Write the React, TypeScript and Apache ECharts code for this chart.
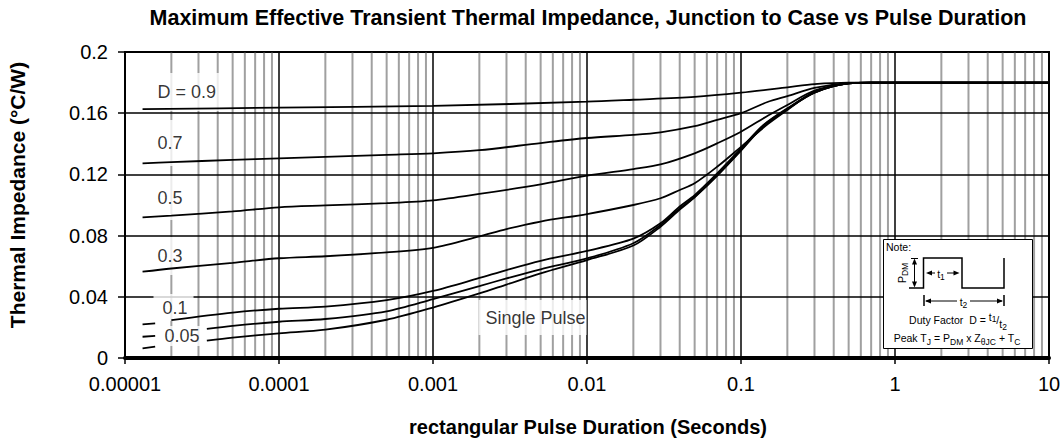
import React, { useEffect, useRef } from 'react';
import * as echarts from 'echarts';

const FONT = 'Liberation Sans, Arial, sans-serif';

const titleText = 'Maximum Effective Transient Thermal Impedance, Junction to Case vs Pulse Duration';
const xAxisTitle = 'rectangular Pulse Duration (Seconds)';
const yAxisTitle = 'Thermal Impedance (°C/W)';

const xTickLabels = ['0.00001', '0.0001', '0.001', '0.01', '0.1', '1', '10'];

const GAP = '-';

const d09 = [
  [1.3e-5, 0.1627], [1e-4, 0.1636], [1e-3, 0.1648], [1e-2, 0.1675], [2e-2, 0.1688],
  [5e-2, 0.1707], [0.1, 0.1734], [0.2, 0.1769], [0.3, 0.179], [0.5, 0.18], [0.7, 0.18], [1, 0.18], [10, 0.18],
];
const d07 = [
  [1.3e-5, 0.1272], [2e-5, 0.128], [5e-5, 0.1295], [1e-4, 0.1305], [2e-4, 0.1315], [5e-4, 0.1328],
  [1e-3, 0.1338], [2e-3, 0.1358], [5e-3, 0.1405], [1e-2, 0.1438], [2e-2, 0.1458], [3e-2, 0.1475],
  [5e-2, 0.1515], [7e-2, 0.1556], [0.1, 0.16], [0.15, 0.1675], [0.2, 0.1712], [0.3, 0.1765],
  [0.5, 0.1797], [0.7, 0.18], [1, 0.18], [10, 0.18],
];
const d05 = [
  [1.3e-5, 0.0919], [2e-5, 0.093], [5e-5, 0.0958], [1e-4, 0.0985], [2e-4, 0.0997], [5e-4, 0.1012],
  [1e-3, 0.103], [2e-3, 0.1072], [5e-3, 0.1135], [1e-2, 0.1192], [2e-2, 0.1235], [3e-2, 0.1265],
  [5e-2, 0.1338], [7e-2, 0.1403], [0.1, 0.1479], [0.15, 0.1585], [0.2, 0.1654], [0.3, 0.1747],
  [0.5, 0.1795], [0.7, 0.18], [1, 0.18], [10, 0.18],
];
const d03 = [
  [1.3e-5, 0.0564], [2e-5, 0.0585], [5e-5, 0.0622], [1e-4, 0.0652], [2e-4, 0.0665], [5e-4, 0.069],
  [1e-3, 0.072], [2e-3, 0.0795], [3e-3, 0.0843], [5e-3, 0.0892], [1e-2, 0.0941], [2e-2, 0.1],
  [3e-2, 0.1044], [4e-2, 0.1098], [5e-2, 0.1142], [7e-2, 0.125], [0.1, 0.138], [0.15, 0.153],
  [0.2, 0.1621], [0.3, 0.174], [0.5, 0.1795], [0.7, 0.18], [1, 0.18], [10, 0.18],
];
const d01 = [
  [1.3e-5, 0.022], [1.57e-5, 0.0226], [1.8e-5, GAP], [2e-5, 0.0248], [5e-5, 0.0297], [1e-4, 0.0322],
  [2e-4, 0.0336], [5e-4, 0.0378], [1e-3, 0.0438], [2e-3, 0.0523], [3e-3, 0.0575], [5e-3, 0.0635],
  [1e-2, 0.07], [2e-2, 0.078], [3e-2, 0.088], [4e-2, 0.099], [5e-2, 0.1065], [7e-2, 0.1207],
  [0.1, 0.137], [0.14, 0.1523], [0.2, 0.1632], [0.3, 0.1736], [0.5, 0.1795], [0.7, 0.18], [1, 0.18], [10, 0.18],
];
const d005 = [
  [1.3e-5, 0.0139], [1.57e-5, 0.0144], [2.5e-5, GAP], [3.4e-5, 0.019], [5e-5, 0.021], [1e-4, 0.0237],
  [2e-4, 0.0255], [5e-4, 0.0305], [1e-3, 0.0385], [2e-3, 0.047], [3e-3, 0.052], [5e-3, 0.058],
  [1e-2, 0.0651], [2e-2, 0.075], [3e-2, 0.0869], [4e-2, 0.0978], [5e-2, 0.1054], [7e-2, 0.1196],
  [0.1, 0.136], [0.14, 0.152], [0.2, 0.1628], [0.3, 0.1735], [0.5, 0.1795], [0.7, 0.18], [1, 0.18], [10, 0.18],
];
const dSingle = [
  [1.3e-5, 0.0063], [1.57e-5, 0.0074], [2.5e-5, GAP], [3.4e-5, 0.0113], [5e-5, 0.0133], [1e-4, 0.0161],
  [2e-4, 0.0185], [5e-4, 0.025], [1e-3, 0.033], [2e-3, 0.0422], [3e-3, 0.048], [5e-3, 0.0553],
  [1e-2, 0.064], [2e-2, 0.0735], [3e-2, 0.0858], [4e-2, 0.097], [5e-2, 0.105], [7e-2, 0.119],
  [0.1, 0.1355], [0.14, 0.1515], [0.2, 0.1626], [0.3, 0.1734], [0.5, 0.1795], [0.7, 0.18], [1, 0.18], [10, 0.18],
];

const seriesNames = ['D = 0.9', '0.7', '0.5', '0.3', '0.1', '0.05', 'Single Pulse'];
const seriesData = [d09, d07, d05, d03, d01, d005, dSingle];

// curve labels: text, anchor (data coords), box padding
const curveLabels = [
  { text: 'D = 0.9', at: [1.453e-5, 0.1739], pad: [9, 7, 9, 7] },
  { text: '0.7', at: [1.453e-5, 0.1405], pad: [16, 8, 10, 7] },
  { text: '0.5', at: [1.453e-5, 0.1046], pad: [14, 8, 10, 7] },
  { text: '0.3', at: [1.453e-5, 0.0667], pad: [7, 8, 11, 7] },
  { text: '0.1', at: [1.52e-5, 0.033], pad: [1, 6, 6, 9] },
  { text: '0.05', at: [1.566e-5, 0.01438], pad: [0, 8, 0, 9] },
  { text: 'Single Pulse', at: [1.96e-3, 0.02647], pad: [11, 1, 4, 7] },
];

// minor (2..9 per decade) vertical grid lines
const minorGridData: any[] = [];
for (let e = -5; e < 1; e++) {
  for (let k = 2; k <= 9; k++) {
    const v = k * Math.pow(10, e);
    minorGridData.push([v, 0], [v, 0.2], [v, GAP]);
  }
}

function arrowHead(x: number, y: number, dir: 'l' | 'r' | 'u' | 'd') {
  const L = 6, W = 2.5;
  let pts: number[][];
  if (dir === 'l') pts = [[x, y], [x + L, y - W], [x + L, y + W]];
  else if (dir === 'r') pts = [[x, y], [x - L, y - W], [x - L, y + W]];
  else if (dir === 'u') pts = [[x, y], [x - W, y + L], [x + W, y + L]];
  else pts = [[x, y], [x - W, y - L], [x + W, y - L]];
  return { type: 'polygon', z: 101, shape: { points: pts }, style: { fill: '#000' } };
}

function seg(x1: number, y1: number, x2: number, y2: number, w = 1) {
  return { type: 'line', z: 101, shape: { x1, y1, x2, y2 }, style: { stroke: '#000', lineWidth: w } };
}

export default function App() {
  const ref = useRef<HTMLDivElement>(null);
  useEffect(() => {
    document.body.style.margin = '0';
    if (!ref.current) return;
    const chart = echarts.init(ref.current, undefined, { renderer: 'svg' });

    const lineSeries: any[] = seriesData.map((d, i) => ({
      type: 'line',
      name: seriesNames[i],
      data: d,
      smooth: 0.3,
      showSymbol: false,
      connectNulls: false,
      z: 4,
      lineStyle: { color: '#000', width: 1.8 },
      itemStyle: { color: '#000' },
      silent: true,
    }));

    const minorGridSeries = {
      type: 'line',
      name: 'minor grid',
      data: minorGridData,
      showSymbol: false,
      connectNulls: false,
      silent: true,
      z: 1,
      lineStyle: { color: '#a0a0a0', width: 2 },
      itemStyle: { color: '#a0a0a0' },
    };

    const labelSeries = {
      type: 'scatter',
      z: 3,
      silent: true,
      symbolSize: 1,
      itemStyle: { color: 'rgba(0,0,0,0)' },
      data: curveLabels.map((l) => ({
        value: l.at,
        name: l.text,
        label: { padding: l.pad },
      })),
      label: {
        show: true,
        position: 'right',
        distance: 0,
        formatter: '{b}',
        fontFamily: FONT,
        fontSize: 18,
        lineHeight: 20,
        color: '#000',
        backgroundColor: '#fff',
      },
    };

    const sub = (size = 8.5) => ({ fontSize: size, fontFamily: FONT, verticalAlign: 'bottom', fill: '#000' });
    const nrm = (lh = 16) => ({ fontSize: 10.5, fontFamily: FONT, verticalAlign: 'middle', lineHeight: lh, fill: '#000' });

    const note: any[] = [
      { type: 'rect', z: 100, shape: { x: 883.5, y: 239.5, width: 149, height: 109 }, style: { fill: '#fff', stroke: '#000', lineWidth: 1 } },
      { type: 'text', z: 101, x: 886, y: 241, style: { text: 'Note:', fontSize: 10.5, fontFamily: FONT, fill: '#000', textAlign: 'left', textVerticalAlign: 'top', align: 'left', verticalAlign: 'top' } },
      {
        type: 'polyline', z: 101,
        shape: { points: [[909, 288], [923.5, 288], [923.5, 258], [962, 258], [962, 288], [1004, 288], [1004, 258]] },
        style: { stroke: '#000', lineWidth: 1.5, fill: 'none' },
      },
      seg(914.5, 260, 914.5, 286),
      arrowHead(914.5, 258.5, 'u'),
      arrowHead(914.5, 287.5, 'd'),
      seg(911, 258.5, 918, 258.5),
      {
        type: 'text', z: 101, x: 902, y: 273, rotation: Math.PI / 2,
        style: {
          text: '{n|P}{s|DM}', rich: { n: nrm(14), s: sub() },
          textAlign: 'center', textVerticalAlign: 'middle', align: 'center', verticalAlign: 'middle',
        },
      },
      seg(928, 273, 935, 273),
      seg(947, 273, 957, 273),
      arrowHead(926, 273, 'l'),
      arrowHead(959.5, 273, 'r'),
      {
        type: 'text', z: 101, x: 941, y: 274,
        style: { text: '{n|t}{s|1}', rich: { n: nrm(14), s: sub() }, textAlign: 'center', textVerticalAlign: 'middle', align: 'center', verticalAlign: 'middle' },
      },
      seg(924, 295, 924, 306, 1.5),
      seg(1004, 295, 1004, 306, 1.5),
      seg(926, 301, 957, 301),
      seg(970, 301, 1002, 301),
      arrowHead(925, 301, 'l'),
      arrowHead(1003, 301, 'r'),
      {
        type: 'text', z: 101, x: 963.5, y: 302,
        style: { text: '{n|t}{s|2}', rich: { n: nrm(14), s: sub() }, textAlign: 'center', textVerticalAlign: 'middle', align: 'center', verticalAlign: 'middle' },
      },
      {
        type: 'text', z: 101, x: 958, y: 320,
        style: {
          text: '{n|Duty Factor  D = }{a|t}{as|1}{n|/}{b|t}{bs|2}',
          rich: {
            n: nrm(18),
            a: { fontSize: 10.5, fontFamily: FONT, verticalAlign: 'top', fill: '#000' },
            as: { fontSize: 8.5, fontFamily: FONT, verticalAlign: 'top', padding: [3, 0, 0, 0], fill: '#000' },
            b: { fontSize: 10.5, fontFamily: FONT, verticalAlign: 'bottom', fill: '#000' },
            bs: { fontSize: 8.5, fontFamily: FONT, verticalAlign: 'bottom', padding: [0, 0, -2, 0], fill: '#000' },
          },
          textAlign: 'center', textVerticalAlign: 'middle', align: 'center', verticalAlign: 'middle',
        },
      },
      {
        type: 'text', z: 101, x: 957, y: 338,
        style: {
          text: '{n|Peak T}{s|J}{n| = P}{s|DM}{n| x Z}{s|θJC}{n| + T}{s|C}',
          rich: { n: nrm(16), s: sub() },
          textAlign: 'center', textVerticalAlign: 'middle', align: 'center', verticalAlign: 'middle',
        },
      },
    ];

    const option: any = {
      animation: false,
      backgroundColor: '#fff',
      grid: { left: 125, right: 15, top: 52, bottom: 90, show: true, borderColor: '#000', borderWidth: 2, containLabel: false },
      xAxis: {
        type: 'log',
        logBase: 10,
        min: 1e-5,
        max: 10,
        z: 2,
        axisLine: { show: true, onZero: false, lineStyle: { color: '#000', width: 4 } },
        axisTick: { show: true, length: 6, lineStyle: { color: '#000', width: 1.5 } },
        axisLabel: {
          margin: 16,
          fontFamily: FONT,
          fontSize: 20,
          color: '#000',
          formatter: (v: number) => xTickLabels[Math.round(Math.log10(v)) + 5] ?? '',
        },
        splitLine: { show: true, lineStyle: { color: '#000', width: 1.5 } },
        minorTick: { show: false },
      },
      yAxis: {
        type: 'value',
        min: 0,
        max: 0.2,
        interval: 0.04,
        z: 2,
        axisLine: { show: true, lineStyle: { color: '#000', width: 2 } },
        axisTick: { show: true, length: 7, lineStyle: { color: '#000', width: 1.5 } },
        axisLabel: {
          margin: 17,
          fontFamily: FONT,
          fontSize: 20,
          color: '#000',
          formatter: (v: number) => String(parseFloat(v.toFixed(2))),
        },
        splitLine: { show: true, lineStyle: { color: '#000', width: 1.5 } },
      },
      series: [minorGridSeries, ...lineSeries, labelSeries],
      graphic: [
        {
          type: 'text', x: 588, y: 18,
          style: { text: titleText, fontFamily: FONT, fontWeight: 'bold', fontSize: 21.5, fill: '#000', textAlign: 'center', textVerticalAlign: 'middle', align: 'center', verticalAlign: 'middle' },
        },
        {
          type: 'text', x: 17, y: 195, rotation: Math.PI / 2,
          style: { text: yAxisTitle, fontFamily: FONT, fontWeight: 'bold', fontSize: 21, fill: '#000', textAlign: 'center', textVerticalAlign: 'middle', align: 'center', verticalAlign: 'middle' },
        },
        {
          type: 'text', x: 588, y: 427,
          style: { text: xAxisTitle, fontFamily: FONT, fontWeight: 'bold', fontSize: 20, fill: '#000', textAlign: 'center', textVerticalAlign: 'middle', align: 'center', verticalAlign: 'middle' },
        },
        ...note,
      ],
    };
    chart.setOption(option);
    return () => chart.dispose();
  }, []);
  return <div ref={ref} style={{ width: 1064, height: 448 }} />;
}
